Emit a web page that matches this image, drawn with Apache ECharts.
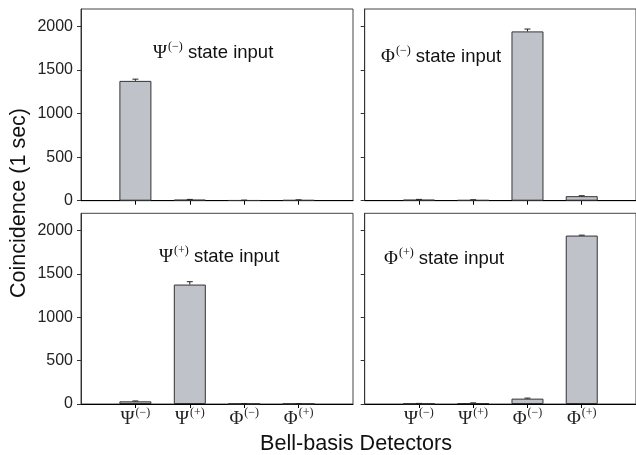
<!DOCTYPE html>
<html><head><meta charset="utf-8">
<script src="https://cdn.jsdelivr.net/npm/echarts@6/dist/echarts.min.js"></script>
<style>html,body{margin:0;padding:0;background:#fff}#c{width:636px;height:455px}</style>
</head><body><div id="c"></div>
<script>
const categories = ['Ψ(−)', 'Ψ(+)', 'Φ(−)', 'Φ(+)'];
const catPositions = [1, 2, 3, 4];
const psiMinusInput = [1375, 12, 5, 8];
const psiMinusErr = [20, 3, 2, 2];
const phiMinusInput = [12, 8, 1943, 52];
const phiMinusErr = [3, 3, 27, 5];
const psiPlusInput = [31, 1378, 3, 3];
const psiPlusErr = [4, 33, 2, 2];
const phiPlusInput = [5, 10, 62, 1943];
const phiPlusErr = [2, 3, 6, 5];
const yTicks = [0, 500, 1000, 1500, 2000];
const panelTitles = [['Ψ', '(−)'], ['Φ', '(−)'], ['Ψ', '(+)'], ['Φ', '(+)']];

const panels = [psiMinusInput, phiMinusInput, psiPlusInput, phiPlusInput];
const errs = [psiMinusErr, phiMinusErr, psiPlusErr, phiPlusErr];

const grids = [
  {left: 81, top: 9, width: 272, height: 191.7},
  {left: 364.7, top: 9, width: 273, height: 191.7},
  {left: 81, top: 213.3, width: 272, height: 190.7},
  {left: 364.7, top: 213.3, width: 273, height: 190.7}
];
const serif = 'Liberation Serif';
const sans = 'Liberation Sans';

const xAxes = grids.map((g, i) => ({
  type: 'value', gridIndex: i, min: 0, max: 5, interval: 1,
  axisLine: {show: true, onZero: false, lineStyle: {color: '#000', width: 1}},
  axisTick: {show: true, length: 4, customValues: catPositions, lineStyle: {color: '#000'}},
  splitLine: {show: false},
  axisLabel: {
    show: i >= 2, customValues: catPositions, margin: 3,
    formatter: v => {
      const c = categories[v - 1];
      if (!c) return '';
      return '{g|' + c[0] + '}{s|' + c.slice(1) + '}';
    },
    rich: {
      g: {fontFamily: serif, fontSize: 19, color: '#222'},
      s: {fontFamily: serif, fontSize: 12, color: '#222', verticalAlign: 'top', padding: [0, 0, 12, 1]}
    }
  }
}));
const yAxes = grids.map((g, i) => ({
  type: 'value', gridIndex: i, min: 0, max: 2200,
  axisLine: {show: true, lineStyle: {color: '#333'}},
  axisTick: {show: true, length: 4, customValues: yTicks, lineStyle: {color: '#333'}},
  splitLine: {show: false},
  axisLabel: {show: i % 2 === 0, customValues: yTicks, formatter: v => String(v), fontFamily: sans, fontSize: 16, color: '#222', margin: 8}
}));

const series = [];
panels.forEach((vals, i) => {
  series.push({
    type: 'bar', xAxisIndex: i, yAxisIndex: i, barWidth: 32,
    data: vals.map((v, k) => [catPositions[k], v]),
    itemStyle: {color: '#c0c2ca', borderColor: '#333', borderWidth: 1},
    silent: true
  });
  series.push({
    type: 'custom', xAxisIndex: i, yAxisIndex: i,
    data: vals.map((v, k) => [catPositions[k], v, v + errs[i][k]]),
    renderItem: (params, api) => {
      const p0 = api.coord([api.value(0), api.value(1)]);
      const p1 = api.coord([api.value(0), api.value(2)]);
      return {type: 'group', children: [
        {type: 'line', shape: {x1: p0[0], y1: p0[1], x2: p1[0], y2: p1[1]}, style: {stroke: '#222', lineWidth: 1}},
        {type: 'line', shape: {x1: p1[0] - 3, y1: p1[1], x2: p1[0] + 3, y2: p1[1]}, style: {stroke: '#222', lineWidth: 1}}
      ]};
    },
    z: 5
  });
});

const titlePos = [[148, 36], [376, 40], [154, 240], [379, 242]];
const titles = panelTitles.map((t, i) => ({
  left: titlePos[i][0], top: titlePos[i][1],
  text: '{g|' + t[0] + '}{s|' + t[1] + '}{t| state input}',
  textStyle: {
    fontWeight: 'normal',
    rich: {
      g: {fontFamily: serif, fontSize: 19, color: '#111', fontWeight: 'normal'},
      s: {fontFamily: serif, fontSize: 12, color: '#111', fontWeight: 'normal', verticalAlign: 'top', padding: [0, 0, 12, 1]},
      t: {fontFamily: sans, fontSize: 18.5, color: '#111', fontWeight: 'normal'}
    }
  }
}));

const chart = echarts.init(document.getElementById('c'));
chart.setOption({
  animation: false,
  title: titles,
  grid: grids.map(g => Object.assign({show: true, borderColor: '#444', borderWidth: 1, backgroundColor: 'transparent'}, g)),
  xAxis: xAxes,
  yAxis: yAxes,
  series: series,
  graphic: [
    {type: 'text', x: 19, y: 203, rotation: Math.PI / 2, style: {text: 'Coincidence (1 sec)', font: '21.5px "Liberation Sans"', fill: '#111', align: 'center', verticalAlign: 'middle'}},
    {type: 'text', x: 356, y: 444, style: {text: 'Bell-basis Detectors', font: '21.6px "Liberation Sans"', fill: '#111', align: 'center', verticalAlign: 'middle'}}
  ]
});
</script>
</body></html>
